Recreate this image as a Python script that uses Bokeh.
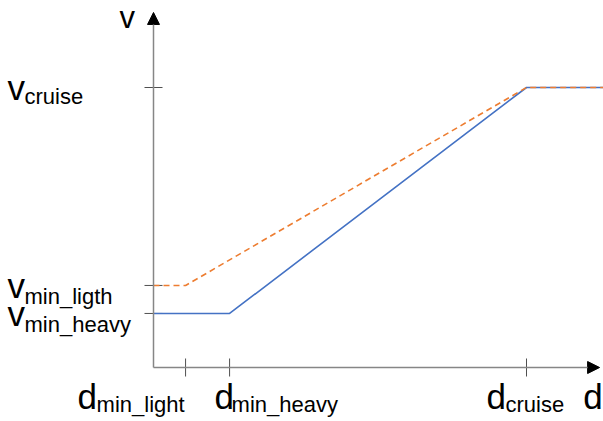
from bokeh.plotting import figure
from bokeh.models import Range1d, Arrow, NormalHead
from bokeh.core.properties import value
from bokeh.embed import file_html
from bokeh.resources import INLINE

# ---- data ----
d_ticks = [8.6, 20.4, 100.0]            # d_min_light, d_min_heavy, d_cruise
d_tick_subs = ["min_light", "min_heavy", "cruise"]
v_ticks = [100.0, 29.3, 19.3]           # v_cruise, v_min_ligth, v_min_heavy
v_tick_subs = ["cruise", "min_ligth", "min_heavy"]

heavy_d = [0.0, 20.4, 100.0, 121.0]
heavy_v = [19.3, 19.3, 100.0, 100.0]
light_d = [0.0, 8.6, 100.0, 121.0]
light_v = [29.3, 29.3, 100.0, 100.0]

d_axis_max = 119.6
v_axis_max = 126.8

# ---- layout ----
W, H = 603, 421
SX, SY = 3.73, 2.8   # pixels per data unit
OX, OY = 153, 367    # pixel position of the origin
xr = Range1d(-OX / SX, (W - OX) / SX)
yr = Range1d(-(H - OY) / SY, OY / SY)

p = figure(width=W, height=H, x_range=xr, y_range=yr, output_backend="svg",
           toolbar_location=None, min_border=0, outline_line_color=None)
p.axis.visible = False
p.grid.visible = False
p.background_fill_color = "white"
p.border_fill_color = "white"

FONT = value("Liberation Sans")
AX = "#868686"
TK = "#505050"

# axes with arrow heads
p.add_layout(Arrow(end=NormalHead(size=12, fill_color="black", line_color="black", line_width=1),
                   x_start=0, y_start=0, x_end=0, y_end=v_axis_max,
                   line_color=AX, line_width=1.5))
p.add_layout(Arrow(end=NormalHead(size=12, fill_color="black", line_color="black", line_width=1),
                   x_start=0, y_start=0, x_end=d_axis_max, y_end=0,
                   line_color=AX, line_width=1.5))

# tick marks
th_x = 9 / SX
th_y = 9 / SY
p.segment(x0=[-th_x] * len(v_ticks), x1=[th_x] * len(v_ticks), y0=v_ticks, y1=v_ticks,
          line_color=TK, line_width=1)
p.segment(x0=d_ticks, x1=d_ticks, y0=[-th_y] * len(d_ticks), y1=[th_y] * len(d_ticks),
          line_color=TK, line_width=1)

# curves
p.line(heavy_d, heavy_v, line_color="#4472C4", line_width=1.6)
p.line(light_d, light_v, line_color="#ED7D31", line_width=1.6, line_dash="6 4")

BIG = value("35px")
SUB = value("22px")

# y tick labels
p.text(x=[0] * 3, y=v_ticks, text=["v"] * 3, x_offset=[-146] * 3, y_offset=[0, 0, 0],
       text_font=FONT, text_font_size=BIG, text_baseline="alphabetic", text_align="left",
       text_color="black")
p.text(x=[0] * 3, y=v_ticks, text=v_tick_subs, x_offset=[-129] * 3, y_offset=[9, 11, 11],
       text_font=FONT, text_font_size=SUB, text_baseline="alphabetic", text_align="left",
       text_color="black")

# x tick labels
p.text(x=d_ticks, y=[0] * 3, text=["d"] * 3, x_offset=[-108, -15, -40], y_offset=[29] * 3,
       text_font=FONT, text_font_size=BIG, text_baseline="alphabetic", text_align="left",
       text_color="black")
p.text(x=d_ticks, y=[0] * 3, text=d_tick_subs, x_offset=[-89, 2, -21], y_offset=[37] * 3,
       text_font=FONT, text_font_size=SUB, text_baseline="alphabetic", text_align="left",
       text_color="black")

# axis names
p.text(x=[d_axis_max], y=[0], text=["d"], x_offset=[3], y_offset=[29],
       text_font=FONT, text_font_size=BIG, text_baseline="alphabetic", text_align="right",
       text_color="black")
p.text(x=[0], y=[v_axis_max], text=["v"], x_offset=[-34], y_offset=[5],
       text_font=FONT, text_font_size=value("31px"), text_baseline="alphabetic",
       text_align="left", text_color="black")

open("out.html", "w").write(file_html(p, INLINE))
